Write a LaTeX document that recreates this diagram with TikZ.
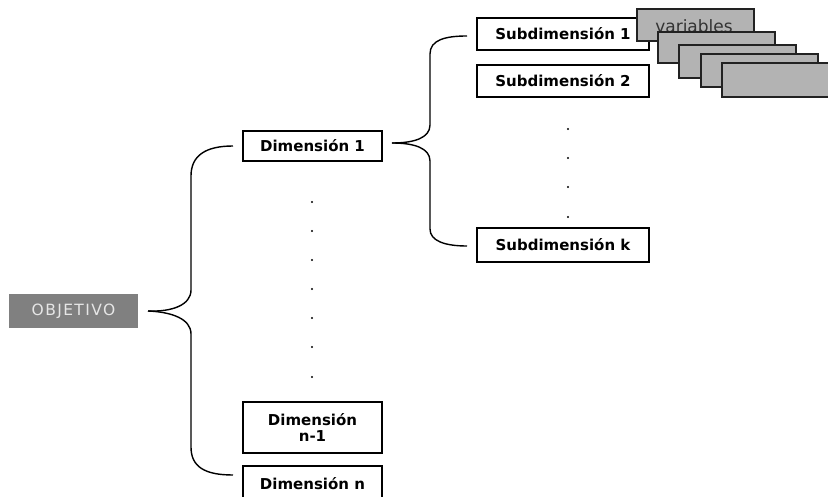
\documentclass[tikz,border=0pt]{standalone}
\usepackage{fontspec}
\setmainfont{DejaVu Sans}
\usetikzlibrary{calc}
\definecolor{objgray}{HTML}{808080}
\definecolor{objtext}{HTML}{E6E6E6}
\definecolor{vargray}{HTML}{B3B3B3}
\definecolor{varline}{HTML}{222222}
\definecolor{vartext}{HTML}{333333}
\begin{document}
\begin{tikzpicture}[x=1pt,y=-1pt,
  box/.style={draw=black, line width=1.3pt, fill=white, inner sep=0pt, outer sep=0pt,
    anchor=north west, align=center, font=\fontsize{15}{17}\selectfont\bfseries},
  objbox/.style={fill=objgray, inner sep=0pt, outer sep=0pt, anchor=north west,
    minimum width=129pt, minimum height=34pt, text=objtext,
    font=\fontsize{15.5}{17}\selectfont\addfontfeature{LetterSpace=9}},
  varbox/.style={draw=varline, line width=1.3pt, fill=vargray, inner sep=0pt, outer sep=0pt,
    anchor=north west, minimum width=117pt, minimum height=32pt},
  dotn/.style={circle, fill=black, inner sep=0pt, minimum size=2.2pt},
  brace/.style={line width=1.4pt, draw=black}]
\useasboundingbox (0,0) rectangle (828,497);

% Objective
\node[objbox] (obj) at (9,294) {OBJETIVO};

% Dimension boxes
\node[box, minimum width=139pt, minimum height=30pt] (d1) at (243,131) {Dimensión 1};
\node[box, minimum width=139pt, minimum height=51pt] (dn1) at (243,402) {Dimensión\\[-1pt] n-1};
\node[box, minimum width=139pt, minimum height=40pt, text depth=0pt] (dn) at (243,466) {\raisebox{5pt}{Dimensión n}};

% dots between dimensions
\foreach \i/\yy in {1/202,2/231,3/260,4/289,5/318,6/347,7/377}
  \node[dotn] (p\i) at (312,\yy) {};

% Subdimension boxes
\node[box, minimum width=172pt, minimum height=32pt] (s1) at (477,18) {Subdimensión 1};
\node[box, minimum width=172pt, minimum height=32pt] (s2) at (477,65) {Subdimensión 2};
\node[box, minimum width=172pt, minimum height=34pt] (sk) at (477,228) {Subdimensión k};

\foreach \i/\yy in {1/129,2/158,3/187,4/217}
  \node[dotn] (q\i) at (568,\yy) {};

% variables stack
\node[varbox] (v1) at (637,9) {};
\node[text=vartext, anchor=base, inner sep=0pt, font=\fontsize{17}{19}\selectfont] (vt) at (694,33) {variables};
\node[varbox, minimum height=31pt] (v2) at (658,32) {};
\node[varbox, minimum height=33pt] (v3) at (679,45) {};
\node[varbox, minimum height=33pt] (v4) at (701,54) {};
\node[varbox, minimum height=34pt] (v5) at (722,63) {};

% big brace
\coordinate (bt) at ($(obj.east)+(10,0)$);
\coordinate (bu) at ($(d1.west)+(-10,0)$);
\coordinate (bl) at ($(dn.north west)+(-10,9)$);
\draw[brace] (bt) .. controls (172,312) and (191,305) .. (191,290) -- (191,176)
  .. controls (191,156) and (205,146) .. (bu);
\draw[brace] (bt) .. controls (172,312) and (191,319) .. (191,334) -- (191,447)
  .. controls (191,467) and (205,475) .. (bl);

% sub brace
\coordinate (st) at ($(d1.east)+(10,-3)$);
\coordinate (su) at ($(s1.west)+(-10,2)$);
\coordinate (sl) at ($(sk.west)+(-10,1)$);
\draw[brace] (st) .. controls (414,143) and (430,138) .. (430,125) -- (430,54)
  .. controls (430,40) and (445,36) .. (su);
\draw[brace] (st) .. controls (414,143) and (430,148) .. (430,161) -- (430,229)
  .. controls (430,241) and (445,246) .. (sl);
\end{tikzpicture}
\end{document}
